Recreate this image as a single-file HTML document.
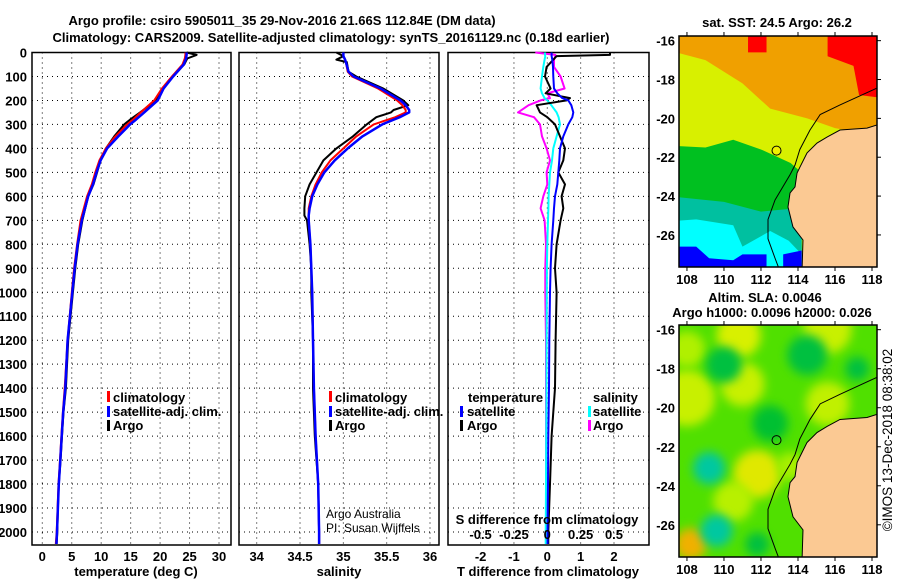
<!DOCTYPE html>
<html><head><meta charset="utf-8">
<style>
html,body{margin:0;padding:0;background:#fff;}
svg{display:block;font-family:"Liberation Sans",Arial,sans-serif;}
.t{font-weight:bold;font-size:13px;fill:#000;}
.tk{font-weight:bold;font-size:13px;fill:#000;}
.lg{font-weight:bold;font-size:13px;fill:#000;}
</style></head>
<body>
<svg id="chart" width="900" height="580" viewBox="0 0 900 580" xmlns="http://www.w3.org/2000/svg">
<defs>
<filter id="blur4" x="-50%" y="-50%" width="200%" height="200%"><feGaussianBlur stdDeviation="5"/></filter>
<clipPath id="clipTop"><rect x="679" y="36" width="198" height="231"/></clipPath>
<clipPath id="clipBot"><rect x="679" y="325" width="198" height="232"/></clipPath>
</defs>
<text class="t" x="282" y="25" text-anchor="middle">Argo profile: csiro 5905011_35 29-Nov-2016 21.66S 112.84E (DM data)</text>
<text class="t" x="331" y="42" text-anchor="middle">Climatology: CARS2009. Satellite-adjusted climatology: synTS_20161129.nc (0.18d earlier)</text>
</svg>
<script>
// ---------- data ----------
const tempDepth = [0,10,25,50,100,150,200,250,280,300,350,400,450,500,550,600,700,800,900,1000,1200,1400,1500,1600,1700,1800,1900,2000,2050];
const argoT = [24.5,26.2,24.6,24.1,22.2,20.5,19.3,16.6,14.9,13.9,12.2,10.8,9.9,9.3,8.7,7.8,6.8,6.1,5.6,5.2,4.4,4.0,3.6,3.35,3.1,2.8,2.65,2.55,2.45];
const climT = [24.3,24.3,24.2,23.8,22.0,20.3,19.0,16.7,15.4,14.4,12.4,10.8,9.7,9.0,8.4,7.6,6.5,5.9,5.4,5.0,4.3,3.8,3.5,3.25,3.0,2.75,2.6,2.45,2.3];
const satT = [24.5,24.5,24.4,24.0,22.2,20.6,19.6,17.3,15.9,14.9,12.9,11.0,9.9,9.2,8.6,7.8,6.7,6.0,5.5,5.1,4.3,3.9,3.55,3.3,3.05,2.8,2.65,2.5,2.4];

const salDepth = [0,15,30,40,80,100,150,200,220,240,250,270,300,350,400,450,500,550,600,650,680,700,800,900,1000,1200,1400,1600,1800,2000,2050];
const argoS = [34.92,35.0,34.92,35.04,35.06,35.15,35.46,35.69,35.75,35.58,35.55,35.38,35.27,35.11,34.92,34.77,34.69,34.61,34.56,34.55,34.55,34.58,34.61,34.63,34.63,34.65,34.65,34.67,34.71,34.72,34.72];
const climS = [35.0,35.0,35.02,35.03,35.05,35.1,35.4,35.62,35.68,35.72,35.72,35.6,35.35,35.15,35.0,34.85,34.75,34.68,34.63,34.6,34.6,34.6,34.62,34.63,34.64,34.65,34.66,34.68,34.71,34.72,34.72];
const satS = [35.0,35.0,35.02,35.03,35.06,35.12,35.43,35.66,35.72,35.76,35.76,35.65,35.45,35.22,35.05,34.9,34.78,34.7,34.64,34.61,34.6,34.6,34.62,34.63,34.64,34.65,34.66,34.68,34.71,34.72,34.72];

const diffDepth = [0,10,15,30,60,100,150,170,190,200,220,250,270,300,350,400,450,500,550,600,650,700,800,900,1000,1200,1400,1600,1800,2000,2050];
const argoDT = [1.88,1.88,0.28,0.18,-0.02,-0.07,0.1,-0.05,0.68,0.58,-0.32,-0.22,0.0,0.23,0.38,0.53,0.48,0.33,0.53,0.43,0.48,0.4,0.28,0.23,0.28,0.25,0.23,0.13,0.08,0.03,0.03];
const satDT = [0.13,0.13,0.13,0.15,0.17,0.18,0.2,0.3,0.45,0.63,0.72,0.78,0.75,0.63,0.48,0.38,0.36,0.33,0.3,0.23,0.2,0.18,0.13,0.1,0.08,0.06,0.05,0.03,0.02,0.01,0.01];
const satDS = [-0.017,-0.017,-0.015,-0.02,-0.03,-0.04,-0.05,-0.04,-0.02,0.0,0.03,0.07,0.085,0.095,0.07,0.045,0.035,0.02,0.015,0.01,0.008,0.005,0.0,-0.003,-0.004,-0.005,-0.006,-0.008,-0.01,-0.012,-0.012];
const argoDS = [-0.09,0.06,0.06,0.05,0.05,0.1,0.13,0.0,0.02,-0.05,-0.14,-0.22,-0.1,-0.055,-0.04,-0.005,0.02,-0.005,0.0,-0.03,-0.05,-0.02,-0.01,-0.015,-0.015,-0.01,-0.01,-0.01,-0.01,-0.01,-0.01];

const depthTicks = [0,100,200,300,400,500,600,700,800,900,1000,1100,1200,1300,1400,1500,1600,1700,1800,1900,2000];
const tempTicks = [0,5,10,15,20,25,30];
const salTicks = [34,34.5,35,35.5,36];
const tdiffTicks = [-2,-1,0,1,2];
const sdiffTicks = [-0.5,-0.25,0,0.25,0.5];
const sdiffLabels = ["-0.5","-0.25","0","0.25","0.5"];
const lonTicks = [108,110,112,114,116,118];
const latTicks = [-16,-18,-20,-22,-24,-26];
const argoLon = 112.84, argoLat = -21.66;

// ---------- helpers ----------
const NS = "http://www.w3.org/2000/svg";
const svg = document.getElementById('chart');
function mk(tag, attrs, parent){
  const e = document.createElementNS(NS, tag);
  for (const k in attrs) e.setAttribute(k, attrs[k]);
  (parent||svg).appendChild(e);
  return e;
}
const top0 = 52.5, pxPerM = (532-52.5)/2000, plotBottom = 545;
const yD = d => top0 + d*pxPerM;
const xT = v => 42.3 + v*(219-42.3)/30;
const xS = v => 256.7 + (v-34)*(430-256.7)/2;
const xDT = v => 547.3 + v*33.35;
const xDS = v => 547.3 + v*133.4;

function panel(name, x0, x1, xTicks, xf, labels){
  const g = mk('g', {});
  
  
  depthTicks.forEach(d => {
    const l = mk('line', {x1:x0, x2:x1, y1:yD(d), y2:yD(d), stroke:'#000', 'stroke-width':1, 'stroke-dasharray':'1,4'}, g);
    
    
  });
  xTicks.forEach((v,i) => {
    const x = xf(v);
    const l = mk('line', {x1:x, x2:x, y1:top0, y2:plotBottom, stroke:'#000', 'stroke-width':1, 'stroke-dasharray':'1,4'}, g);
    
    
    const t = mk('text', {x:x, y:561, 'text-anchor':'middle', class:'tk'}, g);
    t.textContent = labels ? labels[i] : String(v);
    
    
  });
  const r = mk('rect', {x:x0, y:top0, width:x1-x0, height:plotBottom-top0, fill:'none', stroke:'#000', 'stroke-width':1.5}, g);
  
  
  return g;
}
function series(name, depths, vals, xf, color, w, parent){
  const pts = depths.map((d,i) => xf(vals[i]).toFixed(1)+','+yD(d).toFixed(1)).join(' ');
  const p = mk('polyline', {points:pts, fill:'none', stroke:color, 'stroke-width':w, 'stroke-linejoin':'round'}, parent);
  
  
}
function txt(name, x, y, s, cls, anchor, extra){
  const t = mk('text', Object.assign({x:x, y:y, class:cls||'lg', 'text-anchor':anchor||'start'}, extra||{}));
  t.textContent = s;
  
  
  return t;
}
function legMark(name, x, y, color){
  const r = mk('rect', {x:x, y:y-6, width:3, height:11, fill:color});
  
  
}

depthTicks.forEach(d => {
  txt('depth-tick-label', 27, yD(d)+5, String(d), 'tk', 'end');
});

// Panel 1 temperature
const p1 = panel('temperature-panel', 32, 231, tempTicks, xT);
series('argo-temperature-line', tempDepth, argoT, xT, '#000', 2, p1);
series('climatology-temperature-line', tempDepth, climT, xT, '#f00', 2, p1);
series('satellite-temperature-line', tempDepth, satT, xT, '#00f', 2.5, p1);
txt('temperature-axis-title', 136, 576, 'temperature (deg C)', 'tk', 'middle');
legMark('legend-climatology-mark', 107, 397, '#f00');
txt('legend-climatology', 113, 402, 'climatology');
legMark('legend-satellite-mark', 107, 412, '#00f');
txt('legend-satellite-adj', 113, 416, 'satellite-adj. clim.');
legMark('legend-argo-mark', 107, 426, '#000');
txt('legend-argo', 113, 430, 'Argo');

// Panel 2 salinity
const p2 = panel('salinity-panel', 239, 439, salTicks, xS);
series('argo-salinity-line', salDepth, argoS, xS, '#000', 2, p2);
series('climatology-salinity-line', salDepth, climS, xS, '#f00', 2, p2);
series('satellite-salinity-line', salDepth, satS, xS, '#00f', 2.5, p2);
txt('salinity-axis-title', 339, 576, 'salinity', 'tk', 'middle');
legMark('legend-s-climatology-mark', 329, 397, '#f00');
txt('legend-s-climatology', 335, 402, 'climatology');
legMark('legend-s-satellite-mark', 329, 412, '#00f');
txt('legend-s-satellite-adj', 335, 416, 'satellite-adj. clim.');
legMark('legend-s-argo-mark', 329, 426, '#000');
txt('legend-s-argo', 335, 430, 'Argo');
txt('credit-argo-australia', 326, 518, 'Argo Australia', 'tk', 'start', {style:'font-weight:normal;font-size:12px'});
txt('credit-pi', 326, 532, 'PI: Susan Wijffels', 'tk', 'start', {style:'font-weight:normal;font-size:12px'});

// Panel 3 differences
const p3 = panel('difference-panel', 448, 649, tdiffTicks, xDT);
series('argo-salinity-diff-line', diffDepth, argoDS, xDS, '#f0f', 2, p3);
series('satellite-salinity-diff-line', diffDepth, satDS, xDS, '#0ff', 2, p3);
series('argo-temperature-diff-line', diffDepth, argoDT, xDT, '#000', 2, p3);
series('satellite-temperature-diff-line', diffDepth, satDT, xDT, '#00f', 2, p3);
txt('tdiff-axis-title', 548, 576, 'T difference from climatology', 'tk', 'middle');
txt('sdiff-axis-title', 547, 524, 'S difference from climatology', 'tk', 'middle');
sdiffTicks.forEach((v,i) => txt('sdiff-tick-label', xDS(v), 539, sdiffLabels[i], 'tk', 'middle'));
txt('legend-temperature-heading', 468, 402, 'temperature');
legMark('legend-t-satellite-mark', 460, 412, '#00f');
txt('legend-t-satellite', 467, 416, 'satellite');
legMark('legend-t-argo-mark', 460, 426, '#000');
txt('legend-t-argo', 467, 430, 'Argo');
txt('legend-salinity-heading', 593, 402, 'salinity');
legMark('legend-s2-satellite-mark', 588, 412, '#0ff');
txt('legend-s2-satellite', 593, 416, 'satellite');
legMark('legend-s2-argo-mark', 588, 426, '#f0f');
txt('legend-s2-argo', 593, 430, 'Argo');

// ---------- maps ----------
const lonL = 107.57, lonR = 118.27, mx0 = 679, mx1 = 877;
const mX = lon => mx0 + (lon-lonL)*(mx1-mx0)/(lonR-lonL);
const coast = [[118.27,-20.34],[117.73,-20.5],[116.27,-20.6],[115.57,-20.96],[115.03,-21.27],[114.49,-21.78],[114.11,-22.5],[113.95,-22.81],[113.84,-23.53],[113.57,-23.84],[113.46,-24.56],[113.73,-25.59],[114.27,-26.26],[114.22,-27.8],[118.3,-27.8]];
const shelf = [[118.27,-18.44],[116.27,-19.31],[115.2,-19.8],[114.65,-20.6],[114.1,-21.6],[113.84,-22.4],[113.57,-22.9],[112.76,-24.2],[112.38,-25.2],[112.38,-26.2],[112.76,-27.2],[113.0,-27.8]];

function map(name, y0, y1, clipId, drawField){
  const latTop = -15.76, latBot = -27.65;
  const mY = lat => y0 + (lat-latTop)*(y1-y0)/(latBot-latTop);
  const g = mk('g', {});
  
  
  const f = mk('g', {'clip-path':'url(#'+clipId+')'}, g);
  drawField(f, mX, mY);
  const land = mk('polygon', {points: coast.map(p=>mX(p[0])+','+mY(p[1])).join(' '), fill:'#fbc993', stroke:'#000', 'stroke-width':1}, f);
  
  
  const sh = mk('polyline', {points: shelf.map(p=>mX(p[0])+','+mY(p[1])).join(' '), fill:'none', stroke:'#000', 'stroke-width':1}, f);
  
  
  const fr = mk('rect', {x:mx0, y:y0, width:mx1-mx0, height:y1-y0, fill:'none', stroke:'#000', 'stroke-width':1.5}, g);
  
  
  lonTicks.forEach(v => {
    mk('line', {x1:mX(v), x2:mX(v), y1:y0-4, y2:y0, stroke:'#000'}, g);
    mk('line', {x1:mX(v), x2:mX(v), y1:y1, y2:y1+4, stroke:'#000'}, g);
    txt('lon-tick-label', mX(v), y1+17, String(v), 'tk', 'middle');
  });
  latTicks.forEach(v => {
    mk('line', {x1:mx1, x2:mx1+4, y1:mY(v), y2:mY(v), stroke:'#000'}, g);
    txt('lat-tick-label', 675, mY(v)+5, String(v), 'tk', 'end');
  });
  return {g, mY};
}
function poly(parent, pts, color, mXf, mYf, nm){
  const p = mk('polygon', {points: pts.map(q=>mXf(q[0])+','+mYf(q[1])).join(' '), fill:color}, parent);
  
  
}
const topMap = map('sst-map', 36, 267, 'clipTop', (f, X, Y) => {
  poly(f, [[107,-15],[119,-15],[119,-28],[107,-28]], '#f0a000', X, Y, 'sst-orange');
  poly(f, [[107,-16.5],[109,-17],[111,-18.2],[112.5,-19.5],[114.5,-20],[116,-20.5],[119,-21],[119,-28],[107,-28]], '#d8f000', X, Y, 'sst-yellow');
  poly(f, [[107,-21.4],[109,-21.5],[110.5,-21.1],[112,-21.6],[113.6,-22.3],[114.2,-22.8],[114.2,-28],[107,-28]], '#00c020', X, Y, 'sst-green');
  poly(f, [[107,-24],[110,-24.3],[112,-24.8],[114.2,-24.6],[114.2,-28],[107,-28]], '#00c0a0', X, Y, 'sst-teal');
  poly(f, [[107,-25.3],[108.5,-25.2],[110.5,-25.5],[111,-26.6],[112.5,-25.8],[113.5,-26.3],[114.2,-27],[114.2,-28],[107,-28]], '#00ffff', X, Y, 'sst-cyan');
  poly(f, [[107,-26.6],[108.5,-26.6],[109.2,-27.2],[110.5,-27.3],[111,-27],[112.3,-27],[112.3,-28],[107,-28]], '#0000ff', X, Y, 'sst-blue');
  poly(f, [[113.2,-27],[114.2,-26.8],[114.2,-28],[113.2,-28]], '#0000ff', X, Y, 'sst-blue-2');
  poly(f, [[111.3,-15],[112.3,-15],[112.3,-16.6],[111.3,-16.6]], '#ff0000', X, Y, 'sst-red-1');
  poly(f, [[115.6,-15],[119,-15],[119,-19],[117.3,-18.8],[117,-17.3],[115.6,-16.8]], '#ff0000', X, Y, 'sst-red-2');
});
const dot = mk('circle', {cx:mX(argoLon), cy:topMap.mY(argoLat), r:4.5, fill:'#f0f000', stroke:'#000', 'stroke-width':1});


txt('sst-map-title', 777, 27, 'sat. SST: 24.5 Argo: 26.2', 'tk', 'middle');
txt('sla-title-1', 765, 302, 'Altim. SLA: 0.0046', 'tk', 'middle');
txt('sla-title-2', 772, 317, 'Argo h1000: 0.0096 h2000: 0.026', 'tk', 'middle');

const botMap = map('sla-map', 325, 557, 'clipBot', (f, X, Y) => {
  poly(f, [[107,-15],[119,-15],[119,-28],[107,-28]], '#50e000', X, Y, 'sla-base');
  const blobs = [[108,-19.5,'#c8f000',28],[108,-17,'#b0f000',18],[110.8,-16.3,'#d8f000',22],[111,-18.8,'#c8f000',22],[115.6,-16,'#c8f000',24],[115.6,-19.8,'#c0f000',22],[111.8,-23.4,'#e0e800',24],[110.5,-24.8,'#b8f000',20],[113.6,-23,'#a8f000',14],[108.2,-27,'#f0b000',16],[110,-17.8,'#00c040',18],[114.5,-17.3,'#00c040',20],[117.2,-18,'#00c040',12],[109.2,-23.1,'#00c8a0',16],[109.6,-26.3,'#00c8a0',16],[112.5,-20.8,'#00c030',18],[111.8,-27,'#00c040',12]];
  blobs.forEach(b => {
    const c = mk('circle', {cx:X(b[0]), cy:Y(b[1]), r:b[3], fill:b[2], filter:'url(#blur4)'}, f);
    
    
  });
});
const dot2 = mk('circle', {cx:mX(argoLon), cy:botMap.mY(argoLat), r:4.5, fill:'none', stroke:'#000', 'stroke-width':1});



txt('imos-timestamp', 0, 0, '\u00a9IMOS 13-Dec-2018 08:38:02', 'tk', 'middle', {transform:'translate(892,440) rotate(-90)', style:'font-weight:normal;font-size:13.5px'});
</script>
</body></html>
